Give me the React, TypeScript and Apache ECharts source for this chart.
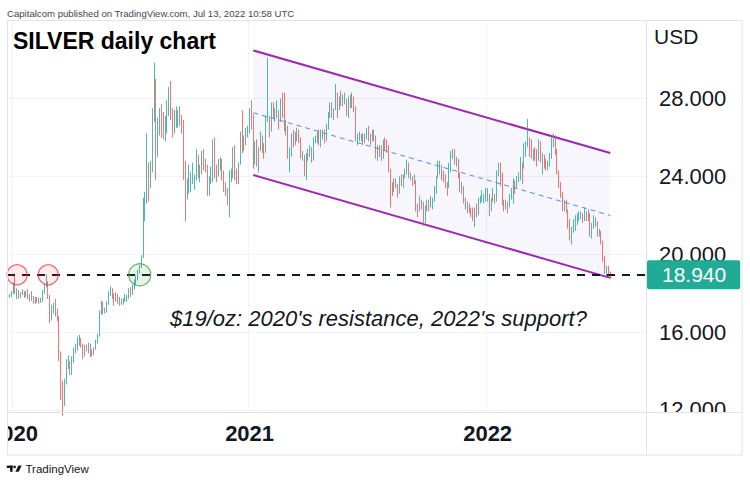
import React, { useEffect, useRef } from "react";
import * as echarts from "echarts";

// ---------- data ----------
const START_DATE = "2019-12-24";
const HOLIDAYS = ["2019-12-25", "2020-01-01", "2020-04-10", "2020-12-25", "2021-01-01", "2021-04-02", "2022-04-15"];
const SLOTS = 349; // 2-session candles incl. empty right margin
const FIRST_OPEN = 17.6;
const LAST_PRICE = 18.94;
const yTicks = [12, 16, 20, 24, 28];

// [close, high, low] per 2-session candle
const bars2020: number[][] = [
  [17.86, 17.95, 17.55], [17.9, 17.95, 17.75], [18.0, 18.1, 17.8], [18.3, 18.55, 17.95], [18.1, 19.0, 17.95],
  [18.1, 18.25, 17.7], [17.8, 18.15, 17.7], [17.95, 18.05, 17.75], [18.05, 18.2, 17.9], [17.85, 18.1, 17.75],
  [17.95, 18.1, 17.8], [17.8, 18.2, 17.7], [17.65, 17.95, 17.55], [17.75, 18.1, 17.6], [17.65, 17.85, 17.45],
  [17.55, 17.8, 17.45], [17.7, 17.8, 17.5], [17.55, 17.75, 17.45], [17.65, 17.75, 17.5], [18.05, 18.15, 17.55],
  [18.4, 18.5, 17.95], [18.6, 18.95, 18.3], [17.85, 18.55, 17.7], [16.6, 17.9, 16.45], [17.15, 17.4, 16.6],
  [17.35, 17.5, 16.95], [17.1, 17.7, 16.8], [16.8, 17.2, 16.55], [14.75, 16.8, 14.5], [12.9, 15.0, 12.5],
  [12.6, 13.5, 11.7], [13.3, 13.6, 12.2], [14.4, 14.6, 13.4], [14.5, 14.8, 14.1], [13.95, 14.5, 13.8],
  [14.6, 14.75, 13.8], [15.05, 15.2, 14.4], [15.15, 15.4, 14.9], [15.45, 15.75, 15.05], [15.6, 15.85, 15.3],
  [15.35, 15.7, 15.2], [14.75, 15.4, 14.6], [15.2, 15.35, 14.8], [15.15, 15.35, 15.0], [15.35, 15.45, 14.9],
  [14.95, 15.4, 14.7], [14.9, 15.1, 14.75], [15.15, 15.2, 14.8], [15.5, 15.6, 15.1], [15.8, 15.9, 15.4],
  [16.95, 17.1, 15.75], [17.35, 17.6, 16.9], [17.1, 17.55, 16.9], [17.15, 17.25, 16.95], [17.45, 17.6, 17.0],
  [18.0, 18.1, 17.4], [18.25, 18.35, 17.85], [17.9, 18.25, 17.7], [17.6, 18.0, 17.35], [17.95, 18.05, 17.55],
  [17.6, 17.95, 17.45], [17.55, 17.8, 17.35], [17.55, 17.7, 17.4], [17.65, 17.75, 17.4], [17.75, 17.95, 17.55],
  [17.75, 17.9, 17.55], [18.15, 18.25, 17.7], [17.95, 18.3, 17.8], [18.3, 18.45, 17.9], [18.55, 18.7, 18.2],
  [18.65, 18.9, 18.4], [19.05, 19.2, 18.7], [19.35, 19.45, 19.0], [19.8, 19.95, 19.3], [22.4, 22.9, 19.8],
  [22.6, 23.2, 21.7], [24.2, 26.2, 22.8], [23.5, 24.7, 22.7], [24.3, 24.8, 23.4], [27.0, 27.5, 24.2],
  [27.5, 29.85, 26.8], [25.9, 29.0, 23.8], [26.6, 27.0, 25.0], [27.3, 27.5, 26.1], [26.7, 27.7, 26.0],
  [26.6, 27.3, 25.9], [26.6, 27.1, 25.8], [27.4, 27.9, 26.2], [28.1, 28.6, 27.1], [27.2, 28.9, 26.9],
  [26.7, 27.5, 26.0], [26.7, 27.4, 26.2], [26.9, 27.6, 26.5], [27.2, 27.4, 26.5], [26.9, 27.6, 26.6],
  [26.8, 27.15, 26.2], [24.5, 26.9, 23.8], [23.1, 24.8, 21.7], [23.5, 23.9, 22.8], [23.7, 24.6, 23.1],
  [23.9, 24.2, 23.2], [23.9, 24.7, 23.6], [23.9, 24.1, 23.3], [25.0, 25.4, 23.8], [24.3, 25.1, 23.9],
  [24.3, 24.6, 23.7], [25.1, 25.3, 24.1], [24.6, 25.4, 24.3], [24.4, 24.9, 24.2], [23.3, 24.6, 23.0],
  [23.7, 24.0, 23.0], [24.3, 24.5, 23.6], [25.8, 25.9, 23.7], [24.3, 26.0, 23.9], [24.2, 24.6, 23.7],
  [24.7, 24.9, 24.0], [24.7, 25.0, 24.3], [24.1, 24.9, 23.8], [23.5, 24.3, 23.2], [23.4, 23.7, 23.0],
  [22.7, 23.4, 22.5], [24.1, 24.3, 21.9], [24.2, 24.4, 23.7], [25.3, 25.5, 23.9], [24.0, 25.6, 23.8],
  [23.9, 24.4, 23.6], [24.6, 24.7, 23.6], [26.0, 26.3, 24.6], [25.7, 27.4, 25.2], [25.6, 26.1, 25.3],
  [26.2, 26.5, 25.6], [26.4, 26.6, 26.0],
];
const bars2021: number[][] = [
  [27.3, 27.5, 26.2], [27.2, 27.9, 26.4], [24.9, 27.2, 24.4], [25.5, 25.8, 24.6], [24.8, 25.9, 24.5],
  [25.4, 25.5, 24.2], [26.1, 26.3, 25.3], [25.4, 26.1, 25.2], [25.3, 25.7, 24.9], [26.9, 27.1, 25.2],
  [27.0, 30.1, 26.8], [26.4, 27.1, 26.0], [27.7, 27.8, 26.3], [27.3, 27.8, 27.0], [27.3, 27.5, 26.8],
  [27.3, 27.9, 27.0], [26.9, 27.4, 26.4], [27.7, 28.0, 26.8], [27.6, 28.3, 27.0], [26.6, 28.3, 26.3],
  [26.6, 26.9, 26.1], [25.2, 26.4, 24.9], [25.2, 25.5, 24.2], [26.0, 26.2, 25.0], [25.9, 26.4, 25.5],
  [25.8, 26.3, 25.6], [26.2, 26.5, 25.8], [26.0, 26.4, 25.7], [25.1, 25.9, 24.9], [25.1, 25.3, 24.8],
  [24.3, 25.0, 24.0], [25.0, 25.2, 23.8], [25.3, 25.4, 24.8], [25.4, 25.6, 25.0], [24.9, 25.5, 24.7],
  [25.9, 26.0, 24.8], [25.9, 26.1, 25.7], [26.2, 26.3, 25.7], [25.9, 26.4, 25.6], [26.2, 26.4, 25.5],
  [26.3, 26.4, 25.9], [25.9, 26.4, 25.7], [26.5, 26.7, 25.8], [27.1, 27.3, 26.4], [27.4, 27.8, 27.0],
  [27.2, 27.8, 27.0], [27.4, 27.5, 26.9], [28.2, 28.75, 27.5], [27.8, 28.3, 27.0], [27.9, 28.1, 27.4],
  [27.8, 28.4, 27.6], [27.9, 28.2, 27.6], [28.0, 28.3, 27.7], [27.3, 28.0, 27.1], [27.9, 28.1, 27.0],
  [27.7, 28.2, 27.5], [28.0, 28.3, 27.5], [27.5, 28.1, 27.3], [26.0, 27.6, 25.8], [26.0, 26.2, 25.6],
  [26.0, 26.3, 25.8], [26.1, 26.2, 25.8], [25.8, 26.2, 25.6], [26.1, 26.2, 25.7], [26.4, 26.5, 25.9],
  [26.0, 26.6, 25.8], [26.1, 26.2, 25.6], [26.1, 26.4, 25.8], [26.0, 26.4, 25.8], [25.1, 26.1, 24.9],
  [25.5, 25.6, 24.8], [25.2, 25.6, 25.0], [25.1, 25.6, 24.8], [25.8, 25.9, 24.9], [25.6, 26.0, 25.3],
  [25.5, 25.9, 25.2], [24.4, 25.6, 24.2], [23.5, 24.2, 22.4], [23.4, 23.7, 23.0], [23.7, 23.9, 23.2],
  [23.6, 23.9, 23.4], [23.1, 23.6, 22.9], [23.9, 24.0, 23.1], [23.7, 24.1, 23.5], [24.0, 24.1, 23.4],
  [24.3, 24.4, 23.9], [24.7, 24.85, 24.1], [24.0, 24.5, 23.9], [24.0, 24.2, 23.8], [23.8, 24.0, 23.5],
  [23.8, 24.1, 23.6], [22.4, 23.8, 22.2], [22.3, 22.6, 21.9], [22.8, 23.0, 22.2], [22.6, 22.8, 22.3],
  [21.7, 22.7, 21.45], [22.4, 22.5, 21.6], [22.7, 22.8, 22.2], [22.6, 22.8, 22.2], [22.7, 23.0, 22.4],
  [22.7, 22.9, 22.3], [23.3, 23.5, 22.8], [23.9, 24.0, 23.1], [24.4, 24.8, 23.9], [24.5, 24.8, 24.1],
  [24.0, 24.6, 23.8], [23.9, 24.3, 23.7], [23.6, 24.1, 23.4], [23.5, 23.7, 23.0], [24.5, 24.7, 23.4],
  [25.1, 25.3, 24.2], [25.2, 25.4, 24.9], [24.8, 25.4, 24.6], [24.8, 25.0, 24.5], [24.1, 24.9, 23.9],
  [23.4, 24.2, 23.2], [23.4, 23.7, 23.1], [22.8, 23.5, 22.6], [22.4, 22.9, 22.3], [22.4, 22.7, 22.1],
  [22.3, 22.6, 22.1], [22.2, 22.4, 21.9], [21.8, 22.4, 21.7], [22.2, 22.4, 21.4], [22.1, 22.6, 21.9],
  [22.8, 22.9, 22.0], [22.9, 23.0, 22.6], [22.9, 23.3, 22.7], [22.9, 23.1, 22.6], [22.9, 23.4, 22.7],
];
const bars2022: number[][] = [
  [23.1, 23.4, 22.7], [22.4, 22.9, 21.95], [22.8, 22.9, 22.2], [22.9, 23.4, 22.7], [22.8, 23.1, 22.6],
  [24.2, 24.3, 22.7], [24.4, 24.7, 24.0], [23.9, 24.7, 23.5], [22.7, 24.2, 22.5], [22.5, 22.8, 22.2],
  [22.6, 22.8, 22.3], [22.5, 22.7, 22.1], [22.9, 23.1, 22.4], [23.0, 23.4, 22.8], [23.7, 23.9, 22.6],
  [23.6, 23.8, 23.1], [23.8, 24.0, 23.4], [24.0, 24.2, 23.7], [24.5, 25.0, 23.8], [24.4, 24.7, 23.6],
  [25.2, 25.7, 24.5], [25.7, 25.8, 25.0], [25.8, 26.95, 25.5], [25.5, 26.0, 25.0], [25.1, 25.9, 24.9],
  [25.2, 25.4, 24.8], [25.0, 25.5, 24.8], [24.8, 25.4, 24.5], [25.7, 25.9, 24.9], [24.9, 25.8, 24.7],
  [25.0, 25.2, 24.1], [24.7, 25.1, 24.4], [24.6, 24.9, 24.3], [24.6, 24.8, 24.3], [25.0, 25.2, 24.5],
  [25.8, 26.0, 24.9], [26.0, 26.2, 25.5], [25.3, 26.1, 25.1], [24.3, 25.4, 24.1], [23.7, 24.3, 23.4],
  [23.1, 23.7, 22.9], [22.4, 23.2, 22.2], [22.5, 22.8, 22.2], [22.3, 22.8, 22.1], [21.5, 22.2, 21.3],
  [20.9, 21.8, 20.7], [21.3, 21.4, 20.5], [21.3, 21.8, 21.1], [21.8, 22.0, 21.2], [22.0, 22.1, 21.5],
  [22.0, 22.2, 21.7], [22.0, 22.2, 21.8], [21.8, 22.1, 21.6], [22.0, 22.4, 21.7], [22.0, 22.2, 21.7],
  [21.9, 22.3, 21.7], [21.0, 22.1, 20.9], [21.4, 21.6, 20.8], [21.6, 22.0, 21.3], [21.6, 21.9, 21.4],
  [21.1, 21.7, 20.9], [21.1, 21.3, 20.9], [20.7, 21.2, 20.5], [19.8, 20.6, 19.6], [19.1, 19.9, 19.0],
  [19.3, 19.4, 18.85], [19.0, 19.4, 18.8], [18.94, 19.1, 18.75],
];

// descending channel: candle indices and prices at its two ends
const channelIdx = [134, 329];
const channelUpper = [30.47, 25.2];
const channelLower = [24.07, 18.78];

// circled touches of the $19 level (candle indices)
const resistanceTouches = [5, 22];
const supportTouches = [72];

const FONT = '"Liberation Sans", Arial, Helvetica, sans-serif';

function buildCategories(): string[] {
  const out: string[] = [];
  const d = new Date(START_DATE + "T00:00:00Z");
  let n = 0;
  while (out.length < SLOTS) {
    const dow = d.getUTCDay();
    const iso = d.toISOString().slice(0, 10);
    if (dow !== 0 && dow !== 6 && HOLIDAYS.indexOf(iso) < 0) {
      if (n % 2 === 0) out.push(iso);
      n++;
    }
    d.setUTCDate(d.getUTCDate() + 1);
  }
  return out;
}

export default function App() {
  const ref = useRef<HTMLDivElement>(null);

  useEffect(() => {
    document.body.style.margin = "0";
    if (!ref.current) return;
    const chart = echarts.init(ref.current, undefined, { renderer: "svg" });

    const cats = buildCategories();
    const bars = [...bars2020, ...bars2021, ...bars2022];
    const ohlc = bars.map((b, i) => {
      const o = i === 0 ? FIRST_OPEN : bars[i - 1][0];
      const [c, h, l] = b;
      return [o, c, Math.min(l, o, c), Math.max(h, o, c)];
    });
    const isYearStart = (i: number) =>
      i > 0 && !!cats[i] && !!cats[i - 1] && cats[i].slice(0, 4) !== cats[i - 1].slice(0, 4);

    const circle = (idx: number, size: number, fill: string, stroke: string) => ({
      coord: [cats[idx], LAST_PRICE],
      symbol: "circle",
      symbolSize: size,
      itemStyle: { color: fill, borderColor: stroke, borderWidth: 1.2 },
      label: { show: false },
    });

    const option: any = {
      animation: false,
      grid: { left: 7, right: 104, top: 20, bottom: 70, containLabel: false, outerBoundsMode: "none" },
      xAxis: {
        type: "category",
        data: cats,
        boundaryGap: true,
        axisLine: { show: false },
        axisTick: { show: false },
        axisLabel: {
          interval: (i: number) => isYearStart(i),
          formatter: (v: string) => v.slice(0, 4),
          fontSize: 22,
          fontWeight: "bold",
          fontFamily: FONT,
          color: "#131722",
          margin: 10,
          hideOverlap: false,
        },
        splitLine: {
          show: true,
          interval: (i: number) => isYearStart(i),
          lineStyle: { color: "#f0f3fa", width: 1 },
        },
      },
      yAxis: {
        type: "value",
        position: "right",
        min: 11.889,
        max: 32.034,
        axisLine: { show: false },
        axisTick: { show: false, customValues: yTicks },
        axisLabel: {
          customValues: yTicks,
          formatter: (v: number) => v.toFixed(3),
          fontSize: 22,
          fontFamily: FONT,
          color: "#131722",
          margin: 13,
        },
        splitLine: { show: true, lineStyle: { color: "#f0f3fa", width: 1 } },
      },
      series: [
        {
          type: "custom",
          z: 1,
          silent: true,
          encode: { x: [0, 1], y: [2, 3, 4, 5] },
          data: [[channelIdx[0], channelIdx[1], channelUpper[0], channelUpper[1], channelLower[0], channelLower[1]]],
          renderItem: (_p: any, api: any) => {
            const x0 = api.value(0), x1 = api.value(1);
            const u0 = api.coord([x0, api.value(2)]);
            const u1 = api.coord([x1, api.value(3)]);
            const l0 = api.coord([x0, api.value(4)]);
            const l1 = api.coord([x1, api.value(5)]);
            const m0 = api.coord([x0, (api.value(2) + api.value(4)) / 2]);
            const m1 = api.coord([x1, (api.value(3) + api.value(5)) / 2]);
            return {
              type: "group",
              children: [
                { type: "polygon", shape: { points: [u0, u1, l1, l0] }, style: { fill: "rgba(120,90,210,0.055)" } },
                { type: "line", shape: { x1: m0[0], y1: m0[1], x2: m1[0], y2: m1[1] }, style: { stroke: "#5b87f5", lineWidth: 1, lineDash: [5, 4] } },
                { type: "line", shape: { x1: u0[0], y1: u0[1], x2: u1[0], y2: u1[1] }, style: { stroke: "#9c27b0", lineWidth: 2 } },
                { type: "line", shape: { x1: l0[0], y1: l0[1], x2: l1[0], y2: l1[1] }, style: { stroke: "#9c27b0", lineWidth: 2 } },
              ],
            };
          },
        },
        {
          type: "candlestick",
          z: 2,
          data: ohlc,
          barWidth: 0.6,
          itemStyle: {
            color: "#26a69a",
            color0: "#ef5350",
            borderColor: "#26a69a",
            borderColor0: "#ef5350",
            borderWidth: 0.8,
          },
          markLine: {
            silent: true,
            animation: false,
            symbol: ["none", "none"],
            lineStyle: { color: "#131722", width: 2, type: [8, 7] },
            label: {
              show: true,
              position: "end",
              distance: 1,
              formatter: LAST_PRICE.toFixed(3),
              color: "#ffffff",
              backgroundColor: "#22ab94",
              fontSize: 21,
              fontFamily: FONT,
              padding: [4, 14, 4, 15],
              borderRadius: 2,
            },
            data: [{ yAxis: LAST_PRICE }],
          },
          markPoint: {
            silent: true,
            animation: false,
            data: [
              ...resistanceTouches.map((i) => circle(i, 20, "rgba(242,54,69,0.10)", "rgba(242,54,69,0.75)")),
              ...supportTouches.map((i) => circle(i, 22, "rgba(67,160,71,0.12)", "rgba(67,160,71,0.8)")),
            ],
          },
        },
      ],
      graphic: [
        { type: "text", x: 7, y: 13.5, z: 100, style: { text: "Capitalcom published on TradingView.com, Jul 13, 2022 10:58 UTC", fontSize: 9.6, fontFamily: FONT, fill: "#434651", verticalAlign: "middle", textVerticalAlign: "middle" } },
        { type: "text", x: 13, y: 41, z: 100, style: { text: "SILVER daily chart", fontSize: 23, fontWeight: "bold", fontFamily: FONT, fill: "#000000", verticalAlign: "middle", textVerticalAlign: "middle" } },
        { type: "text", x: 170, y: 318, z: 100, style: { text: "$19/oz: 2020's resistance, 2022's support?", fontSize: 22, fontStyle: "italic", fontFamily: FONT, fill: "#131722", verticalAlign: "middle", textVerticalAlign: "middle" } },
        { type: "text", x: 654, y: 36, z: 100, style: { text: "USD", fontSize: 21, fontFamily: FONT, fill: "#131722", verticalAlign: "middle", textVerticalAlign: "middle" } },
        // covers that clip axis labels at the pane borders
        { type: "rect", z: 100, shape: { x: 0, y: 413, width: 7, height: 42 }, style: { fill: "#ffffff" } },
        { type: "rect", z: 100, shape: { x: 647, y: 413, width: 95, height: 42 }, style: { fill: "#ffffff" } },
        // frame
        { type: "rect", z: 101, shape: { x: 7.5, y: 20.5, width: 734.5, height: 434.5 }, style: { fill: "none", stroke: "#e0e3eb", lineWidth: 1 } },
        { type: "line", z: 101, shape: { x1: 646.5, y1: 20, x2: 646.5, y2: 455 }, style: { stroke: "#e0e3eb", lineWidth: 1 } },
        { type: "line", z: 101, shape: { x1: 7, y1: 412.5, x2: 742, y2: 412.5 }, style: { stroke: "#e0e3eb", lineWidth: 1 } },
        // TradingView logo
        { type: "rect", z: 100, shape: { x: 6.8, y: 465.6, width: 5.8, height: 2.4 }, style: { fill: "#131722" } },
        { type: "rect", z: 100, shape: { x: 10.1, y: 465.6, width: 2.5, height: 6.2 }, style: { fill: "#131722" } },
        { type: "circle", z: 100, shape: { cx: 14.6, cy: 466.9, r: 1.3 }, style: { fill: "#131722" } },
        { type: "polygon", z: 100, shape: { points: [[15.4, 471.8], [18.4, 465.6], [21.7, 465.6], [18.7, 471.8]] }, style: { fill: "#131722" } },
        { type: "text", x: 25.5, y: 468.5, z: 100, style: { text: "TradingView", fontSize: 11.5, fontFamily: FONT, fill: "#131722", verticalAlign: "middle", textVerticalAlign: "middle" } },
      ],
    };

    chart.setOption(option);
    return () => chart.dispose();
  }, []);

  return <div ref={ref} style={{ position: "absolute", left: 0, top: 0, width: 750, height: 482, background: "#ffffff" }} />;
}
